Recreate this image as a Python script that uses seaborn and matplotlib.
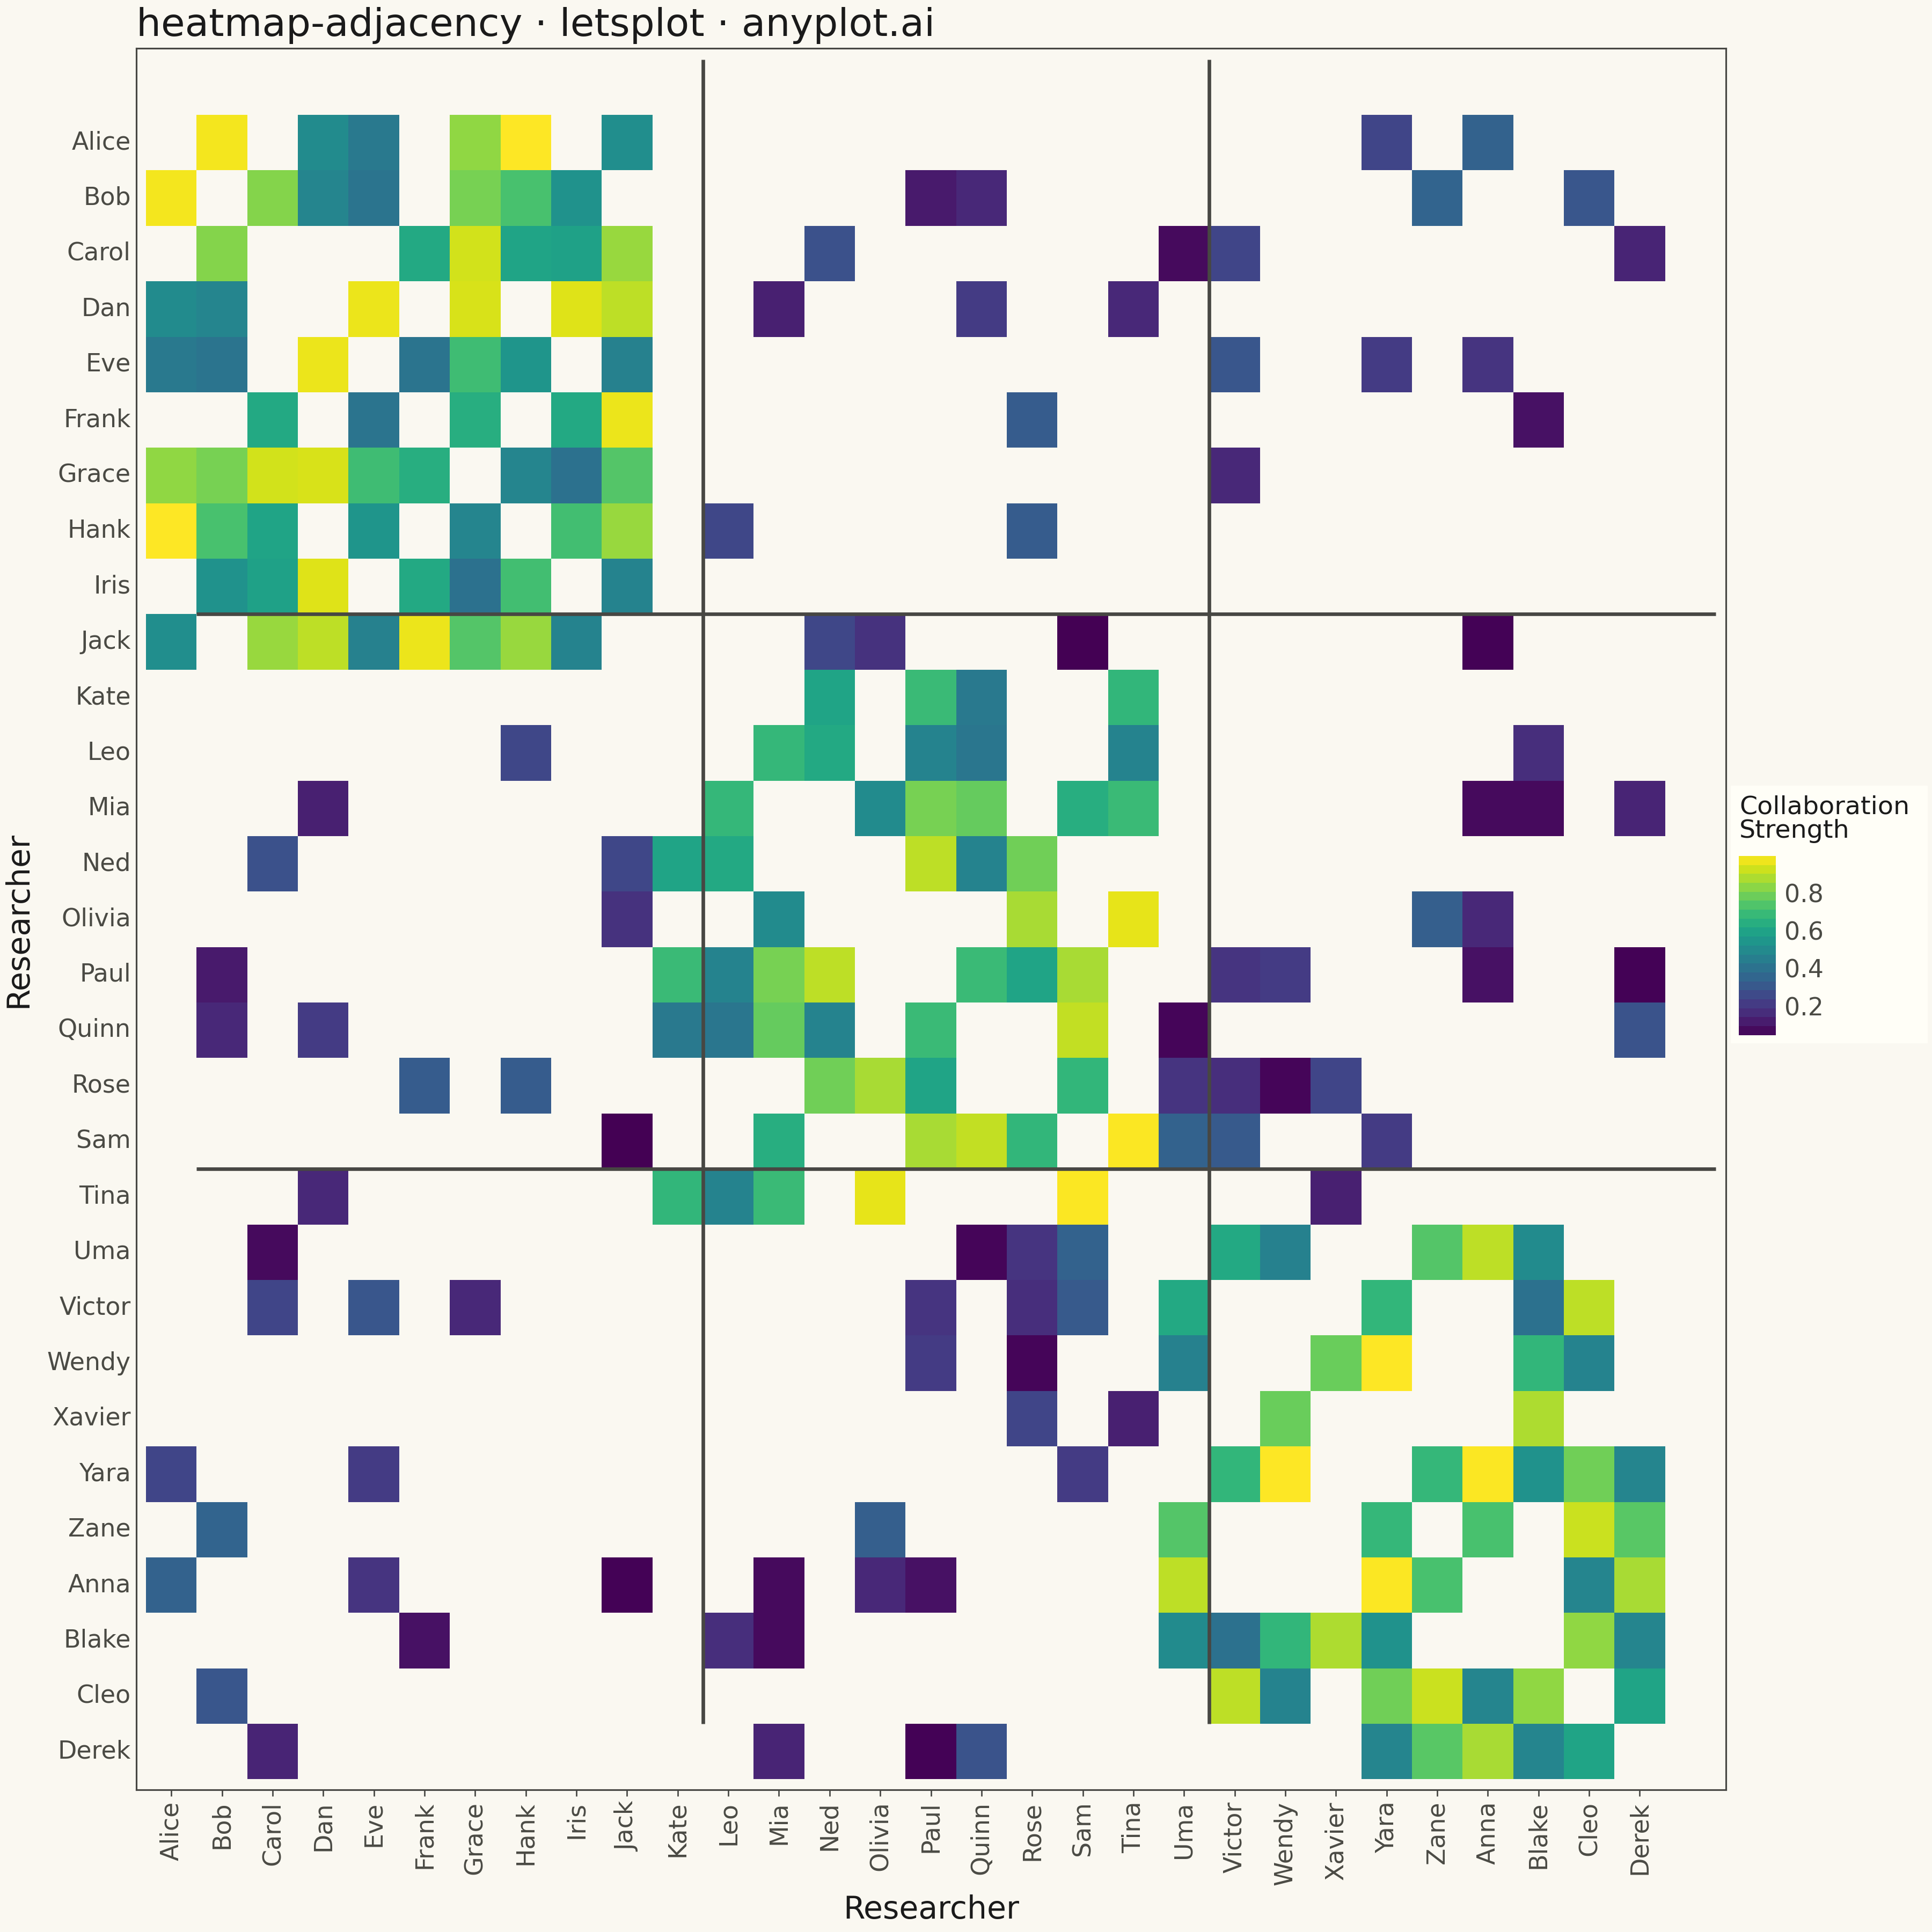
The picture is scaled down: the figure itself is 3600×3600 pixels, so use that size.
import numpy as np
import pandas as pd
import matplotlib
matplotlib.use("Agg")
import matplotlib.pyplot as plt
import seaborn as sns
from matplotlib.patches import Rectangle

# ---------------- data ----------------
researchers = ["Alice", "Bob", "Carol", "Dan", "Eve", "Frank", "Grace", "Hank", "Iris", "Jack",
               "Kate", "Leo", "Mia", "Ned", "Olivia", "Paul", "Quinn", "Rose", "Sam", "Tina",
               "Uma", "Victor", "Wendy", "Xavier", "Yara", "Zane", "Anna", "Blake", "Cleo", "Derek"]

community_sizes = [10, 10, 10]

source = ["Alice", "Alice", "Alice", "Alice", "Alice", "Alice", "Alice", "Alice",
          "Bob", "Bob", "Bob", "Bob", "Bob", "Bob", "Bob", "Bob", "Bob", "Bob",
          "Carol", "Carol", "Carol", "Carol", "Carol", "Carol", "Carol", "Carol", "Carol",
          "Dan", "Dan", "Dan", "Dan", "Dan", "Dan", "Dan",
          "Eve", "Eve", "Eve", "Eve", "Eve", "Eve", "Eve",
          "Frank", "Frank", "Frank", "Frank", "Frank",
          "Grace", "Grace", "Grace", "Grace",
          "Hank", "Hank", "Hank", "Hank",
          "Iris",
          "Jack", "Jack", "Jack", "Jack",
          "Kate", "Kate", "Kate", "Kate",
          "Leo", "Leo", "Leo", "Leo", "Leo", "Leo",
          "Mia", "Mia", "Mia", "Mia", "Mia", "Mia", "Mia", "Mia",
          "Ned", "Ned", "Ned",
          "Olivia", "Olivia", "Olivia", "Olivia",
          "Paul", "Paul", "Paul", "Paul", "Paul", "Paul", "Paul",
          "Quinn", "Quinn", "Quinn",
          "Rose", "Rose", "Rose", "Rose", "Rose",
          "Sam", "Sam", "Sam", "Sam",
          "Tina",
          "Uma", "Uma", "Uma", "Uma", "Uma",
          "Victor", "Victor", "Victor",
          "Wendy", "Wendy", "Wendy", "Wendy",
          "Xavier",
          "Yara", "Yara", "Yara", "Yara", "Yara",
          "Zane", "Zane", "Zane",
          "Anna", "Anna",
          "Blake", "Blake",
          "Cleo"]

target = ["Bob", "Dan", "Eve", "Grace", "Hank", "Jack", "Yara", "Anna",
          "Carol", "Dan", "Eve", "Grace", "Hank", "Iris", "Paul", "Quinn", "Zane", "Cleo",
          "Frank", "Grace", "Hank", "Iris", "Jack", "Ned", "Uma", "Victor", "Derek",
          "Eve", "Grace", "Iris", "Jack", "Mia", "Quinn", "Tina",
          "Frank", "Grace", "Hank", "Jack", "Victor", "Yara", "Anna",
          "Grace", "Iris", "Jack", "Rose", "Blake",
          "Hank", "Iris", "Jack", "Victor",
          "Iris", "Jack", "Leo", "Rose",
          "Jack",
          "Ned", "Olivia", "Sam", "Anna",
          "Ned", "Paul", "Quinn", "Tina",
          "Mia", "Ned", "Paul", "Quinn", "Tina", "Blake",
          "Olivia", "Paul", "Quinn", "Sam", "Tina", "Anna", "Blake", "Derek",
          "Paul", "Quinn", "Rose",
          "Rose", "Tina", "Zane", "Anna",
          "Quinn", "Rose", "Sam", "Victor", "Wendy", "Anna", "Derek",
          "Sam", "Uma", "Derek",
          "Sam", "Uma", "Victor", "Wendy", "Xavier",
          "Tina", "Uma", "Victor", "Yara",
          "Xavier",
          "Victor", "Wendy", "Zane", "Anna", "Blake",
          "Yara", "Blake", "Cleo",
          "Xavier", "Yara", "Blake", "Cleo",
          "Blake",
          "Zane", "Anna", "Blake", "Cleo", "Derek",
          "Anna", "Cleo", "Derek",
          "Cleo", "Derek",
          "Cleo", "Derek",
          "Derek"]

strength = [0.98, 0.50, 0.43, 0.84, 0.996, 0.51, 0.24, 0.34,
            0.82, 0.48, 0.41, 0.80, 0.72, 0.53, 0.11, 0.15, 0.35, 0.30,
            0.62, 0.93, 0.60, 0.59, 0.85, 0.28, 0.07, 0.24, 0.14,
            0.97, 0.94, 0.95, 0.90, 0.13, 0.21, 0.15,
            0.41, 0.70, 0.54, 0.46, 0.30, 0.21, 0.19,
            0.64, 0.62, 0.97, 0.32, 0.09,
            0.48, 0.40, 0.74, 0.15,
            0.71, 0.85, 0.25, 0.32,
            0.47,
            0.25, 0.18, 0.046, 0.05,
            0.60, 0.69, 0.43, 0.67,
            0.68, 0.62, 0.47, 0.42, 0.47, 0.17,
            0.50, 0.80, 0.77, 0.64, 0.69, 0.07, 0.07, 0.14,
            0.90, 0.47, 0.79,
            0.87, 0.96, 0.33, 0.15,
            0.69, 0.60, 0.87, 0.19, 0.21, 0.09, 0.05,
            0.91, 0.06, 0.29,
            0.67, 0.19, 0.17, 0.06, 0.24,
            0.99, 0.34, 0.31, 0.21,
            0.13,
            0.62, 0.46, 0.74, 0.90, 0.50,
            0.67, 0.40, 0.90,
            0.78, 0.996, 0.67, 0.47,
            0.88,
            0.68, 0.99, 0.53, 0.79, 0.48,
            0.72, 0.92, 0.75,
            0.48, 0.87,
            0.84, 0.48,
            0.60]

# ---------------- build adjacency table ----------------
adj = pd.DataFrame(np.nan, index=researchers, columns=researchers)
for s, t, v in zip(source, target, strength):
    adj.loc[s, t] = v
    adj.loc[t, s] = v

# ---------------- styling ----------------
BG = "#FAF8F1"
LEGEND_BG = "#FFFEF7"
INK = "#1A1A1A"
TICK = "#4A4A44"
LINE = "#474743"

sns.set_theme(style="white")
plt.rcParams["font.family"] = ["DejaVu Sans"]

fig = plt.figure(figsize=(12, 12), dpi=300, facecolor=BG)
ax = fig.add_axes([0.0706, 0.0736, 0.8227, 0.9014])
ax.set_facecolor(BG)

# legend background box
fig.add_artist(Rectangle((0.8958, 0.4600), 0.1020, 0.1333, transform=fig.transFigure,
                         facecolor=LEGEND_BG, edgecolor="none", zorder=-1))
cax = fig.add_axes([0.9000, 0.4642, 0.0192, 0.0928])
cax.set_facecolor("none")

vmin, vmax = min(strength), max(strength)
sns.heatmap(adj, ax=ax, cbar_ax=cax, cmap="viridis",
            vmin=vmin, vmax=vmax, linewidths=0,
            cbar_kws={"boundaries": np.linspace(vmin, vmax, 21)},
            xticklabels=researchers, yticklabels=researchers)

n = len(researchers)
ax.set_xlim(-0.19, n + 1.2)
ax.set_ylim(n + 0.19, -1.2)

# community separators
bounds = np.cumsum(community_sizes)[:-1]
for b in bounds:
    ax.plot([b + 1, b + 1], [-1, n - 1], color=LINE, lw=1.6, solid_capstyle="butt", zorder=5)
    ax.plot([1, n + 1], [b - 1, b - 1], color=LINE, lw=1.6, solid_capstyle="butt", zorder=5)

for sp in ax.spines.values():
    sp.set_visible(True)
    sp.set_color(LINE)
    sp.set_linewidth(0.75)

ax.set_xticks(np.arange(n) + 0.5)
ax.set_xticklabels(researchers, rotation=90, ha="center", va="top")
ax.set_yticks(np.arange(n) + 0.5)
ax.set_yticklabels(researchers, rotation=0, va="center")
ax.tick_params(axis="x", length=2.8, width=0.65, color=LINE, pad=2.4,
               labelsize=11, labelcolor=TICK, bottom=True)
ax.tick_params(axis="y", length=0, pad=2.5, labelsize=11, labelcolor=TICK, left=True)
ax.set_xlabel("")
ax.set_ylabel("")

fig.text(0.482, 0.0114, "Researcher", ha="center", va="center", fontsize=14, color=INK)
fig.text(0.0095, 0.524, "Researcher", ha="center", va="center", rotation=90,
         fontsize=14, color=INK)
fig.text(0.0706, 0.9814, "heatmap-adjacency · letsplot · anyplot.ai", ha="left",
         va="baseline", fontsize=17.4, color=INK)

# colorbar
cbar = ax.collections[0].colorbar
cbar.outline.set_visible(False)
cbar.set_ticks([0.2, 0.4, 0.6, 0.8])
cbar.set_ticklabels(["0.2", "0.4", "0.6", "0.8"])
cax.tick_params(direction="in", length=3.1, width=0.8, color="white",
                left=True, right=True, labelleft=False, labelright=True,
                labelsize=11, labelcolor=TICK, pad=3.8)
fig.text(0.9003, 0.5885, "Collaboration\nStrength", ha="left", va="top",
         fontsize=11.4, color=INK, linespacing=1.0)

fig.savefig("out.png", dpi=300, facecolor=BG)
